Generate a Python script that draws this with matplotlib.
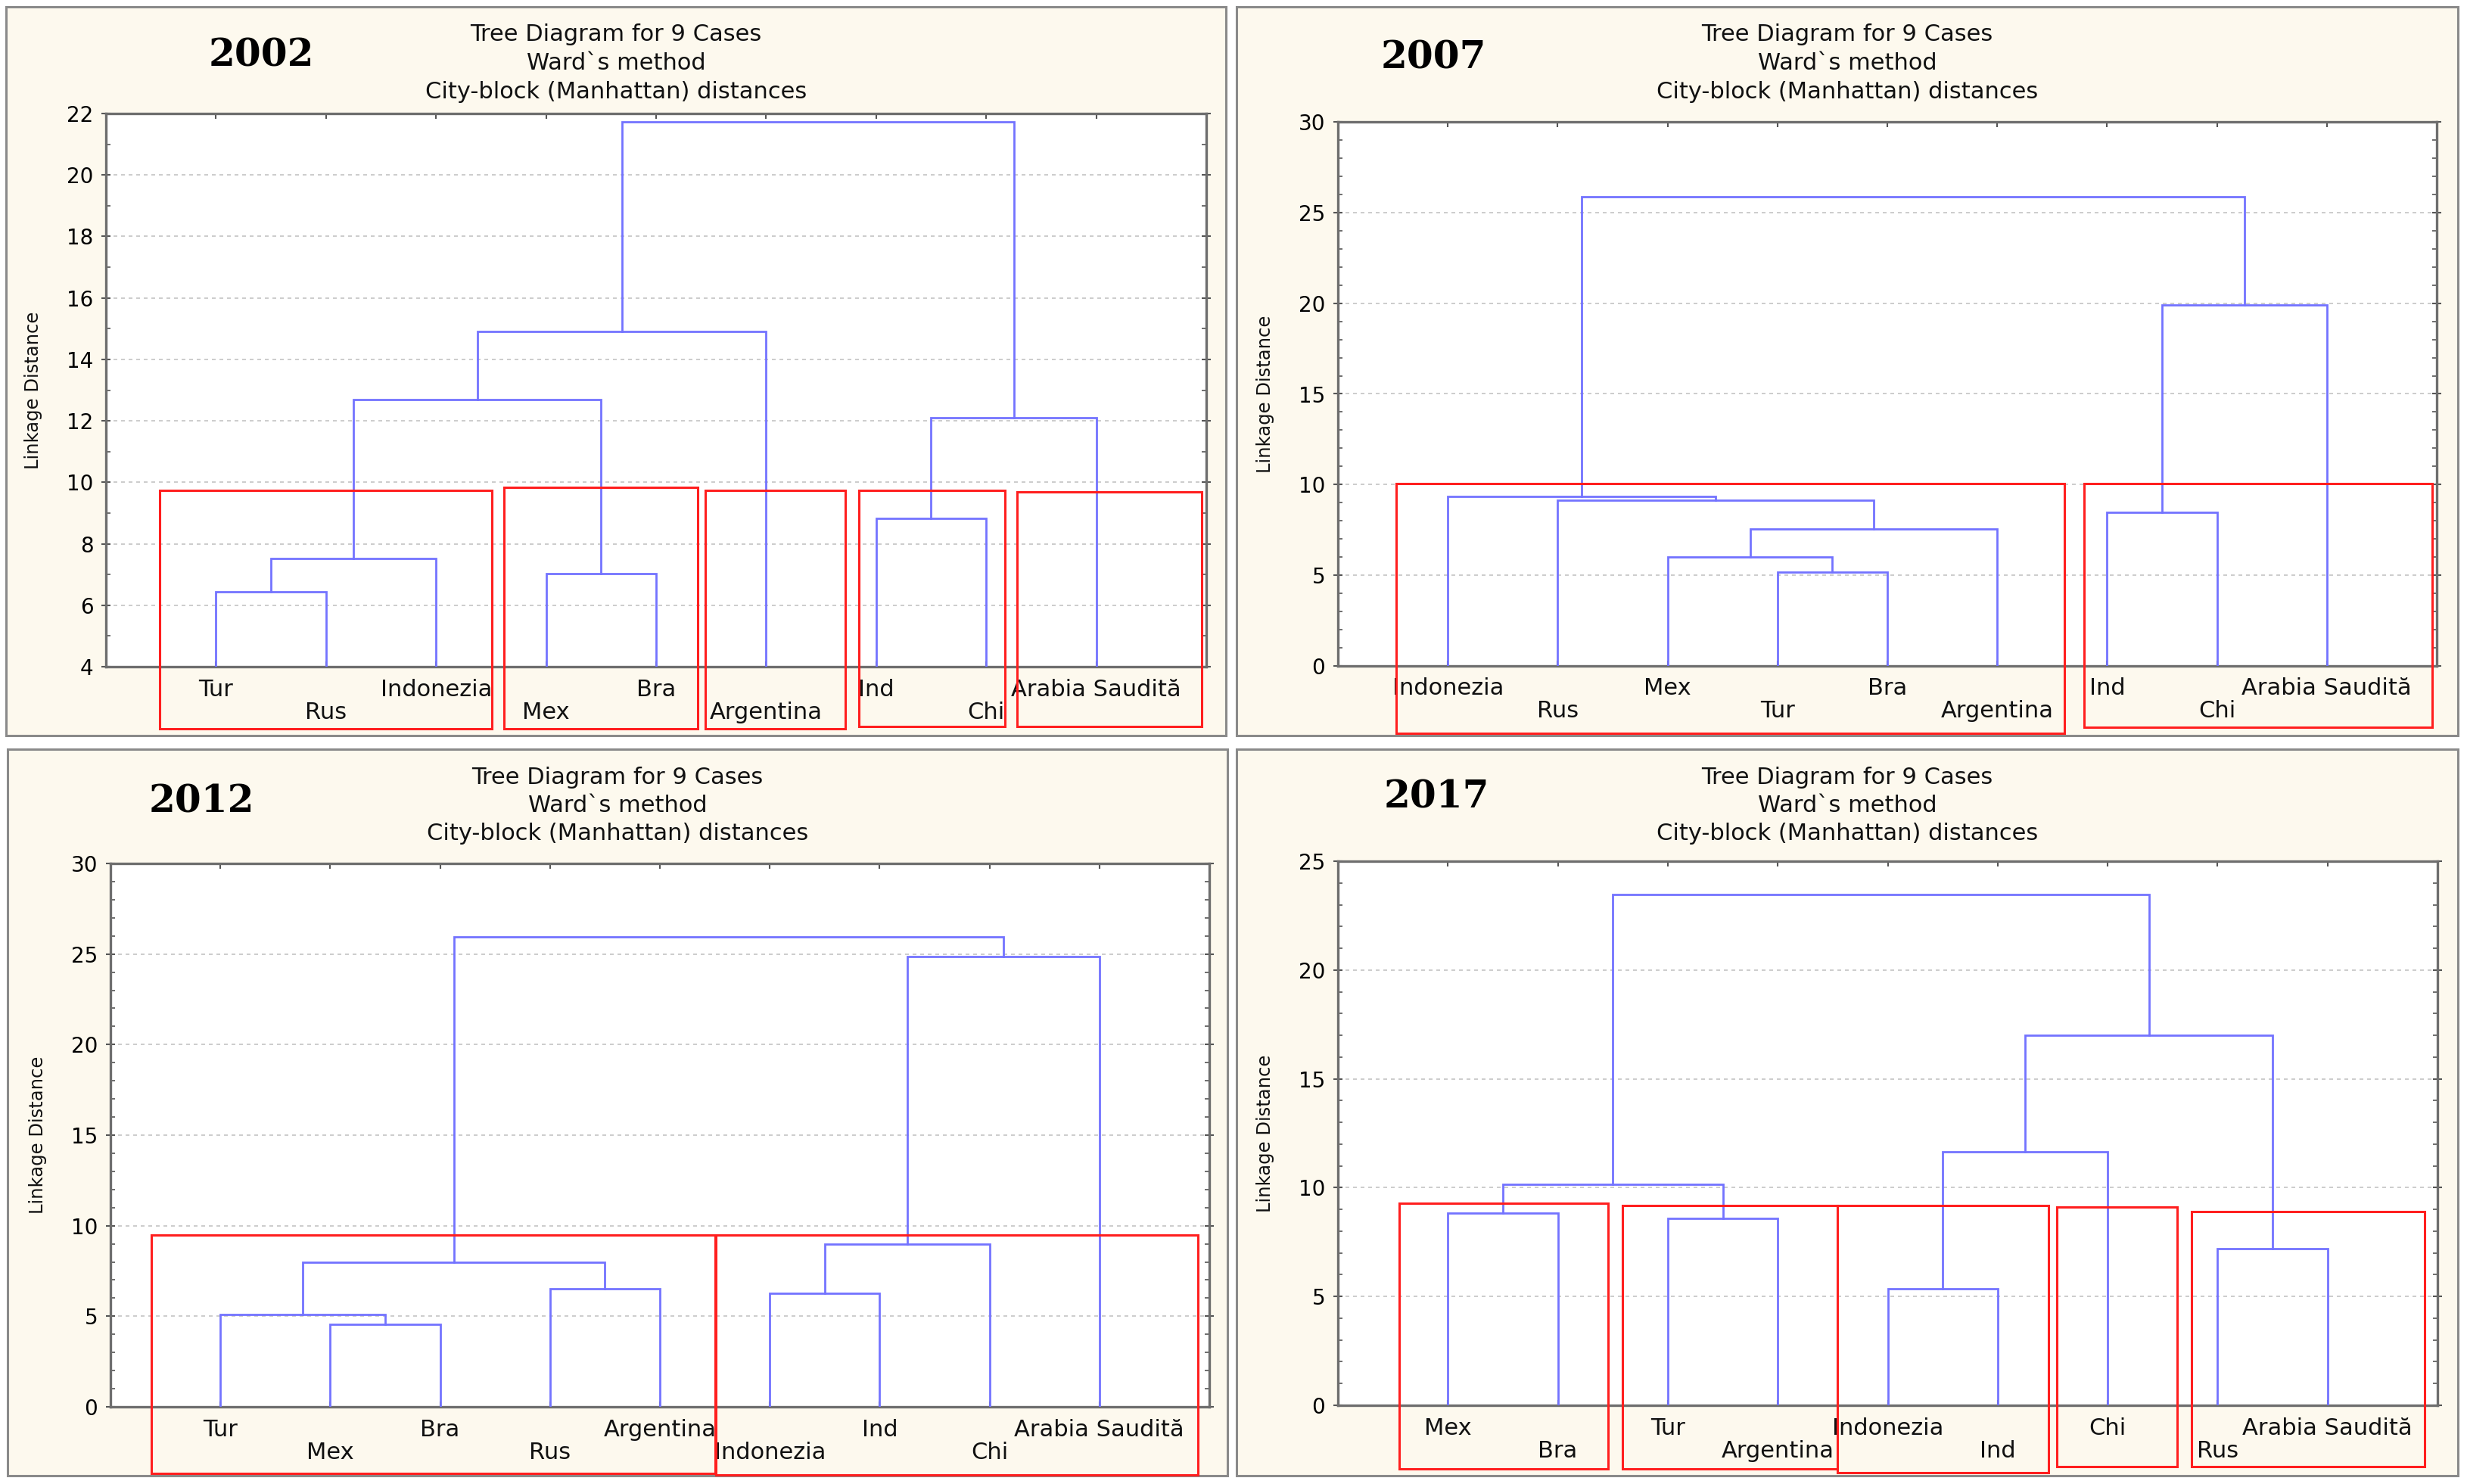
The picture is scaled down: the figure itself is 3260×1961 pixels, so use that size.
import matplotlib
matplotlib.use("Agg")
import matplotlib.pyplot as plt
from matplotlib.patches import Rectangle
from matplotlib.ticker import MultipleLocator, AutoMinorLocator
from matplotlib.transforms import offset_copy

W, H = 3260, 1961

# ---- data: leaf order and merges (child_a, child_b, linkage distance) per year ----
years = ["2002", "2007", "2012", "2017"]

leaves_2002 = ["Tur", "Rus", "Indonezia", "Mex", "Bra", "Argentina", "Ind", "Chi", "Arabia Saudită"]
merges_2002 = [(0, 1, 6.45), (3, 4, 7.02), (9, 2, 7.52), (6, 7, 8.83),
               (12, 8, 12.11), (11, 10, 12.69), (14, 5, 14.92), (15, 13, 21.72)]

leaves_2007 = ["Indonezia", "Rus", "Mex", "Tur", "Bra", "Argentina", "Ind", "Chi", "Arabia Saudită"]
merges_2007 = [(3, 4, 5.16), (2, 9, 5.99), (10, 5, 7.56), (6, 7, 8.47),
               (1, 11, 9.12), (0, 13, 9.36), (12, 8, 19.89), (14, 15, 25.88)]

leaves_2012 = ["Tur", "Mex", "Bra", "Rus", "Argentina", "Indonezia", "Ind", "Chi", "Arabia Saudită"]
merges_2012 = [(1, 2, 4.57), (0, 9, 5.09), (5, 6, 6.26), (3, 4, 6.52),
               (10, 12, 7.96), (11, 7, 8.97), (14, 8, 24.84), (13, 15, 25.96)]

leaves_2017 = ["Mex", "Bra", "Tur", "Argentina", "Indonezia", "Ind", "Chi", "Rus", "Arabia Saudită"]
merges_2017 = [(4, 5, 5.34), (7, 8, 7.21), (2, 3, 8.60), (0, 1, 8.82),
               (12, 11, 10.17), (9, 6, 11.64), (14, 10, 17.01), (13, 15, 23.46)]

ylims = [(4, 22), (0, 30), (0, 30), (0, 25)]
ysteps = [2, 5, 5, 5]

# highlighted groups: (x_left, x_right, y_top, y_bottom) in leaf / distance units
boxes_2002 = [(0.49, 3.51, 9.74, 1.97), (3.62, 5.38, 9.83, 1.97), (5.45, 6.72, 9.74, 1.97),
              (6.84, 8.17, 9.74, 2.05), (8.28, 9.96, 9.68, 2.05)]
boxes_2007 = [(0.53, 6.61, 10.06, -3.70), (6.79, 9.96, 10.06, -3.36)]
boxes_2012 = [(0.37, 5.50, 9.50, -3.68), (5.51, 9.90, 9.50, -3.78)]
boxes_2017 = [(0.56, 2.46, 9.30, -2.93), (2.59, 4.54, 9.19, -2.93), (4.54, 6.46, 9.19, -3.08),
              (6.54, 7.63, 9.10, -2.82), (7.76, 9.88, 8.91, -2.82)]

title_lines = ["Tree Diagram for 9 Cases", "Ward`s method", "City-block (Manhattan) distances"]

# ---- layout (pixels) ----
panel_px = [(8, 9, 1620, 972), (1634, 9, 3248, 972), (10, 990, 1622, 1950), (1634, 990, 3248, 1950)]
axes_px = [(140, 150, 1594, 881), (1768, 161, 3220, 880), (146, 1141, 1598, 1859), (1768, 1138, 3221, 1857)]
year_px = [(345, 74), (1894, 77), (266, 1060), (1898, 1054)]

BLUE = "#7373ff"
RED = "#ff1f1f"


def fx(x):
    return x / W


def fy(y):
    return 1 - y / H


def draw_tree(ax, leaves, merges, base):
    n = len(leaves)
    xs = {i: i + 1 for i in range(n)}
    hs = {i: base for i in range(n)}
    for k, (a, b, h) in enumerate(merges):
        ax.plot([xs[a], xs[a], xs[b], xs[b]], [hs[a], h, h, hs[b]],
                color=BLUE, lw=2.0, solid_joinstyle="miter", zorder=3)
        xs[n + k] = (xs[a] + xs[b]) / 2
        hs[n + k] = h


fig = plt.figure(figsize=(W / 100, H / 100), dpi=100)
fig.patch.set_facecolor("white")

all_leaves = [leaves_2002, leaves_2007, leaves_2012, leaves_2017]
all_merges = [merges_2002, merges_2007, merges_2012, merges_2017]
all_boxes = [boxes_2002, boxes_2007, boxes_2012, boxes_2017]

for p in range(4):
    # cream panel
    x0, y0, x1, y1 = panel_px[p]
    fig.add_artist(Rectangle((fx(x0), fy(y1)), fx(x1 - x0), (y1 - y0) / H,
                             transform=fig.transFigure, facecolor="#fdf9ee",
                             edgecolor="#8a8a8a", lw=2.2, zorder=-5))
    cx = (x0 + x1) / 2
    for i, line in enumerate(title_lines):
        fig.text(fx(cx), fy(y0 + 37 + 37.5 * i), line, ha="center", va="center",
                 fontsize=22, color="#111111")
    fig.text(fx(year_px[p][0]), fy(year_px[p][1]), years[p], ha="center", va="center",
             family="DejaVu Serif", weight="bold", fontsize=36, color="black")

    a0, b0, a1, b1 = axes_px[p]
    ax = fig.add_axes([fx(a0), fy(b1), fx(a1 - a0), (b1 - b0) / H])
    ax.set_facecolor("white")
    lo, hi = ylims[p]
    ax.set_xlim(0, 10)
    ax.set_ylim(lo, hi)
    ax.yaxis.set_major_locator(MultipleLocator(ysteps[p]))
    ax.yaxis.set_minor_locator(AutoMinorLocator(ysteps[p] if ysteps[p] == 5 else 2))
    ax.set_xticks(range(1, 10))
    ax.set_xticklabels([])
    ax.tick_params(axis="x", which="both", direction="in", top=True, bottom=True,
                   length=5, width=1.5, color="#555555")
    ax.tick_params(axis="y", which="major", direction="inout", left=True, right=True,
                   length=8, width=1.5, color="#555555", labelsize=20, pad=8)
    ax.tick_params(axis="y", which="minor", direction="in", left=True, right=True,
                   length=4, width=1.2, color="#555555")
    for s in ax.spines.values():
        s.set_color("#6e6e6e")
        s.set_linewidth(2.4)
    ax.yaxis.grid(True, linestyle=(0, (3, 3)), color="#c4c4c4", lw=1.2)
    ax.set_axisbelow(True)

    fig.text(fx(a0 - 96), fy((b0 + b1) / 2), "Linkage Distance", rotation=90,
             ha="center", va="center", fontsize=17.5, color="#111111")

    draw_tree(ax, all_leaves[p], all_merges[p], lo)

    # leaf labels in two staggered rows
    row1 = offset_copy(ax.get_xaxis_transform(), fig=fig, y=-30, units="dots")
    row2 = offset_copy(ax.get_xaxis_transform(), fig=fig, y=-60, units="dots")
    for i, name in enumerate(all_leaves[p]):
        ax.text(i + 1, 0, name, transform=row1 if i % 2 == 0 else row2,
                ha="center", va="center", fontsize=22, color="#111111", clip_on=False)

    for (bx0, bx1, top, bot) in all_boxes[p]:
        ax.add_patch(Rectangle((bx0, bot), bx1 - bx0, top - bot, fill=False,
                               edgecolor=RED, lw=2.2, clip_on=False, zorder=6))

fig.savefig("out.png", dpi=100, facecolor="white")
